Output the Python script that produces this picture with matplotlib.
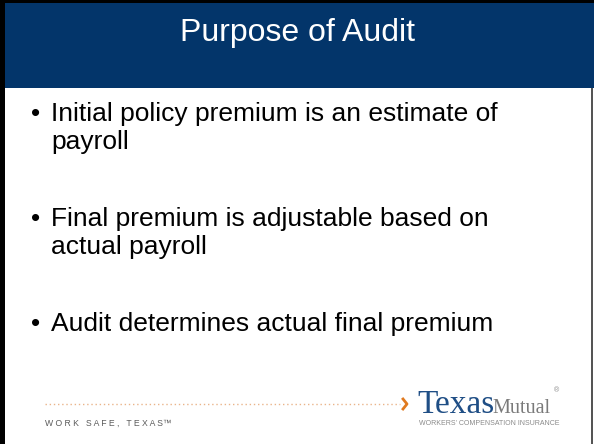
import matplotlib.pyplot as plt
from matplotlib.patches import Rectangle

plt.rcParams['font.family'] = ['Liberation Sans', 'DejaVu Sans']

title = "Purpose of Audit"
bullets = [
    ["Initial policy premium is an estimate of", "payroll"],
    ["Final premium is adjustable based on", "actual payroll"],
    ["Audit determines actual final premium"],
]
bullet_baselines = [121, 226, 331]
footer_slogan = "W O R K   S A F E ,   T E X A S\u2122"
logo_word1 = "Texas"
logo_word2 = "Mutual"
logo_tagline = "WORKERS' COMPENSATION INSURANCE"

W, H = 594, 444
fig = plt.figure(figsize=(W / 100, H / 100), dpi=100)
ax = fig.add_axes([0, 0, 1, 1])
ax.set_xlim(0, W)
ax.set_ylim(H, 0)
ax.axis('off')

# frame and header
ax.add_patch(Rectangle((0, 0), W, H, facecolor='white', edgecolor='none'))
ax.add_patch(Rectangle((0, 0), 5, H, facecolor='black', edgecolor='none'))
ax.add_patch(Rectangle((0, 0), W, 3, facecolor='black', edgecolor='none'))
ax.add_patch(Rectangle((591, 88), 2, H - 88, facecolor='#555555', edgecolor='none'))
ax.add_patch(Rectangle((5, 3), W - 5, 85, facecolor='#03356a', edgecolor='none'))
ax.text(297, 41, title, color='white', fontsize=23, ha='center', va='baseline')

# bullets
for base, lines in zip(bullet_baselines, bullets):
    ax.text(36, base, "\u2022", fontsize=19, ha='center', va='baseline', color='black')
    for i, line in enumerate(lines):
        ax.text(51, base + i * 28, line, fontsize=19, ha='left', va='baseline', color='black')

# footer
ax.plot([45, 400], [404, 404], linestyle=(0, (1, 2)), color='#eab48a', lw=1)
ax.plot([403, 407, 403], [399, 404, 409], color='#e07a20', lw=2)
ax.text(45, 423, footer_slogan, fontsize=6.2, color='#5a5a5a', ha='left', va='center')
ax.text(417, 413, logo_word1, family='Liberation Serif', fontsize=24, color='#1f4e85',
        ha='left', va='baseline')
ax.text(492, 413, logo_word2, family='Liberation Serif', fontsize=14.5, color='#7a7a7a',
        ha='left', va='baseline')
ax.text(557, 391, "\u00ae", fontsize=5, color='#888888', ha='center', va='center')
ax.text(489, 423, logo_tagline, fontsize=5, color='#8a8a8a', ha='center', va='center')

fig.savefig('out.png', dpi=100)
